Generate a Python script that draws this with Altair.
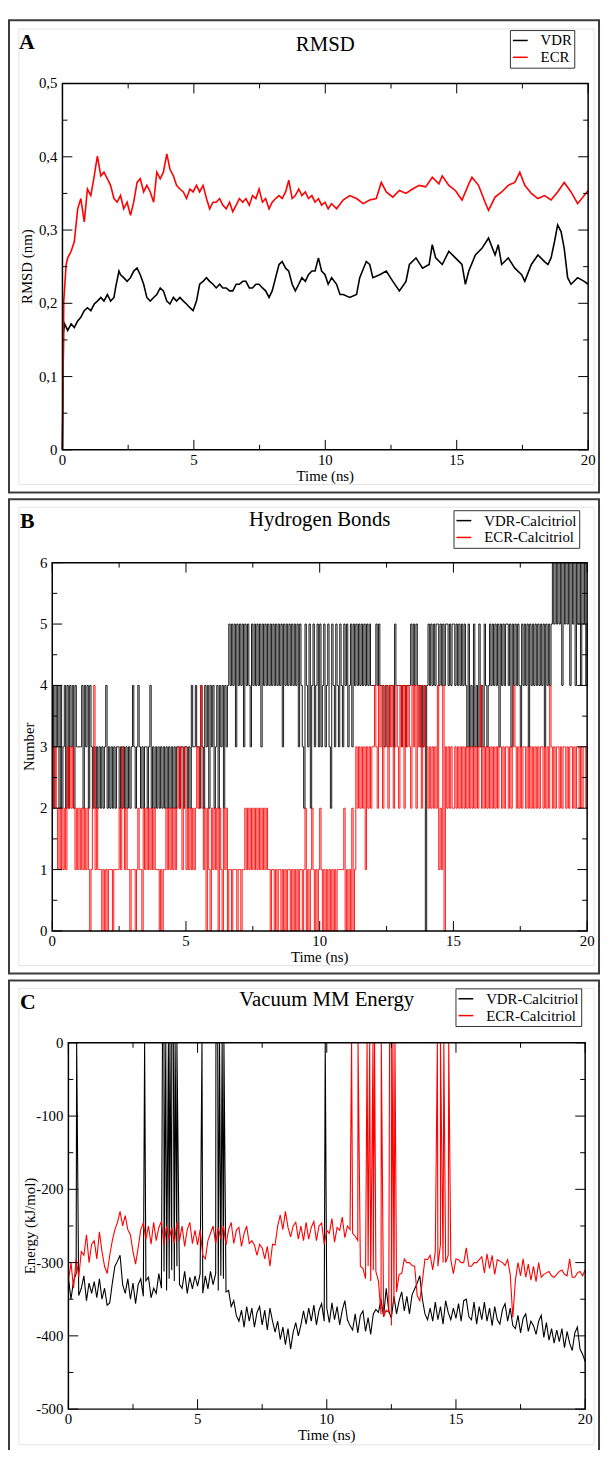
import altair as alt
import pandas as pd

FONT = "Liberation Serif"
BLACK = "#000000"
RED = "#ff0000"

# ---------------- Panel A : RMSD (nm) ----------------
rmsd_vdr_t = [0, 0.04, 0.08, 0.20, 0.33, 0.45, 0.58, 0.70, 0.83, 0.95, 1.08, 1.21, 1.33, 1.46, 1.58, 1.71, 1.83, 1.96,
              2.02, 2.15, 2.21, 2.33, 2.46, 2.59, 2.71, 2.84, 2.96, 3.09, 3.21, 3.34, 3.47, 3.59, 3.72, 3.84, 3.97,
              4.09, 4.22, 4.34, 4.47, 4.60, 4.72, 4.85, 4.97, 5.10, 5.22, 5.35, 5.48, 5.60, 5.73, 5.85, 5.98, 6.10,
              6.23, 6.36, 6.48, 6.61, 6.73, 6.86, 6.98, 7.11, 7.23, 7.36, 7.48, 7.61, 7.73, 7.86, 7.98, 8.11, 8.24,
              8.36, 8.49, 8.61, 8.74, 8.86, 8.99, 9.11, 9.24, 9.36, 9.49, 9.61, 9.74, 9.86, 9.99, 10.11, 10.24,
              10.43, 10.56, 10.68, 10.93, 11.19, 11.31, 11.56, 11.69, 11.81, 12.07, 12.32, 12.57, 12.82, 13.07,
              13.20, 13.45, 13.70, 13.95, 14.07, 14.20, 14.45, 14.70, 14.95, 15.20, 15.33, 15.46, 15.71, 15.96,
              16.21, 16.46, 16.58, 16.71, 16.96, 17.21, 17.47, 17.59, 17.84, 18.09, 18.34, 18.47, 18.59, 18.72,
              18.84, 18.97, 19.09, 19.22, 19.35, 19.60, 19.85, 20.0]
rmsd_vdr_v = [0, 0.160, 0.172, 0.163, 0.172, 0.167, 0.176, 0.181, 0.190, 0.194, 0.190, 0.199, 0.203, 0.208, 0.203,
              0.212, 0.203, 0.208, 0.221, 0.244, 0.239, 0.235, 0.230, 0.235, 0.244, 0.248, 0.239, 0.226, 0.208,
              0.203, 0.208, 0.212, 0.221, 0.217, 0.203, 0.199, 0.208, 0.203, 0.208, 0.203, 0.199, 0.194, 0.190,
              0.203, 0.226, 0.230, 0.235, 0.230, 0.226, 0.221, 0.226, 0.221, 0.221, 0.217, 0.217, 0.226, 0.226,
              0.230, 0.230, 0.221, 0.221, 0.226, 0.226, 0.221, 0.217, 0.208, 0.217, 0.235, 0.253, 0.257, 0.248,
              0.244, 0.226, 0.217, 0.226, 0.235, 0.230, 0.239, 0.244, 0.244, 0.262, 0.244, 0.239, 0.226, 0.235,
              0.226, 0.212, 0.212, 0.208, 0.212, 0.235, 0.257, 0.253, 0.235, 0.239, 0.244, 0.230, 0.217, 0.230,
              0.253, 0.262, 0.248, 0.253, 0.280, 0.262, 0.253, 0.271, 0.262, 0.253, 0.226, 0.244, 0.266, 0.275,
              0.289, 0.266, 0.280, 0.253, 0.262, 0.248, 0.239, 0.230, 0.253, 0.266, 0.257, 0.253, 0.262, 0.284,
              0.307, 0.298, 0.275, 0.235, 0.226, 0.235, 0.230, 0.226]
rmsd_ecr_t = [0, 0.05, 0.14, 0.20, 0.33, 0.45, 0.58, 0.70, 0.83, 0.95, 1.08, 1.21, 1.27, 1.33, 1.46, 1.58, 1.71,
              1.83, 1.96, 2.08, 2.21, 2.33, 2.46, 2.59, 2.71, 2.84, 2.96, 3.09, 3.21, 3.34, 3.47, 3.59, 3.72, 3.84,
              3.97, 4.09, 4.22, 4.34, 4.47, 4.60, 4.72, 4.85, 4.97, 5.10, 5.22, 5.35, 5.48, 5.60, 5.73, 5.85, 5.98,
              6.10, 6.23, 6.36, 6.48, 6.61, 6.73, 6.86, 6.98, 7.11, 7.23, 7.36, 7.48, 7.61, 7.73, 7.86, 7.98, 8.11,
              8.24, 8.36, 8.49, 8.61, 8.74, 8.86, 8.99, 9.11, 9.24, 9.36, 9.49, 9.61, 9.74, 9.86, 9.99, 10.11,
              10.24, 10.43, 10.68, 10.93, 11.19, 11.44, 11.69, 11.94, 12.13, 12.32, 12.57, 12.82, 13.07, 13.32,
              13.57, 13.82, 14.07, 14.32, 14.45, 14.70, 14.95, 15.20, 15.46, 15.58, 15.83, 16.08, 16.21, 16.46,
              16.71, 16.96, 17.21, 17.40, 17.59, 17.84, 18.09, 18.34, 18.59, 18.84, 19.09, 19.35, 19.60, 19.85,
              20.0]
rmsd_ecr_v = [0, 0.203, 0.253, 0.262, 0.271, 0.284, 0.329, 0.343, 0.311, 0.356, 0.347, 0.374, 0.388, 0.401, 0.374,
              0.379, 0.370, 0.361, 0.343, 0.338, 0.347, 0.329, 0.338, 0.320, 0.338, 0.365, 0.370, 0.352, 0.361,
              0.352, 0.338, 0.379, 0.370, 0.379, 0.404, 0.383, 0.374, 0.361, 0.356, 0.352, 0.343, 0.356, 0.352,
              0.361, 0.352, 0.361, 0.343, 0.329, 0.338, 0.338, 0.343, 0.334, 0.329, 0.338, 0.325, 0.334, 0.343,
              0.338, 0.343, 0.334, 0.347, 0.343, 0.356, 0.338, 0.343, 0.329, 0.338, 0.343, 0.347, 0.343, 0.352,
              0.368, 0.343, 0.347, 0.356, 0.347, 0.352, 0.343, 0.347, 0.338, 0.343, 0.334, 0.338, 0.329, 0.336,
              0.329, 0.341, 0.347, 0.343, 0.336, 0.341, 0.343, 0.365, 0.352, 0.345, 0.354, 0.350, 0.356, 0.361,
              0.359, 0.372, 0.363, 0.374, 0.361, 0.354, 0.341, 0.363, 0.372, 0.361, 0.338, 0.327, 0.345, 0.352,
              0.361, 0.365, 0.379, 0.361, 0.350, 0.343, 0.347, 0.341, 0.352, 0.365, 0.352, 0.336, 0.347, 0.354]

# ---------------- Panel B : hydrogen bonds, one digit per 0.05 ns (20 per ns) ----------------
hb_step = 0.05
hb_vdr = ["42434242342424342433", "33424342432323232323", "42323232332323232323", "43234323233234232323",
          "23232323232323323323", "32324334332432434243", "42342434243454545354", "54535454354545453545",
          "45454545454535454545", "45453543254352453453", "53453453254354354354", "53453545454545454544",
          "44545444344344435444", "43443444545454434340", "45454545545454554545", "54545454543534353435",
          "34354345454545354545", "54535454543545453545", "45454545354545656565", "64656564656465646564",
          "5"]
hb_ecr = ["32321212121323232121", "21212121012412111010", "10111011112132121101", "11012110212121212111",
          "01011212121212323123", "12121212323421202102", "12120210212011011101", "10112121212121212121",
          "21101101011010101101", "01010110120101210101", "21010101010101111120", "10102013232323132323",
          "34324342343243423432", "43424343243424342343", "32323232412140323232", "23232323232323232323",
          "42323232323232332323", "32323432323233232323", "23232332323243232332", "32332323323233232332",
          "3"]

# ---------------- Panel C : vacuum MM energy (kJ/mol), one value per 0.1 ns ----------------
en_vdr = [
    [-320, -350, -325, -315, -345, -335, -318, -352, -328, -342],
    [-326, -348, -322, -350, -335, -358, -355, -328, -305, -298],
    [-290, -330, -342, -322, -350, -328, -356, -330, -322, -346],
    [-325, -320, -348, -335, -342, -315, -335, -312, -338, -322],
    [-310, -325, -305, -330, -335, -312, -342, -320, -336, -318],
    [-332, -315, -342, -318, -336, -312, -330, -315, -338, -318],
    [-322, -340, -338, -360, -352, -372, -380, -365, -388, -360],
    [-380, -362, -388, -368, -360, -385, -365, -392, -362, -380],
    [-395, -380, -405, -388, -412, -390, -418, -395, -382, -400],
    [-385, -366, -384, -362, -380, -358, -385, -365, -356, -380],
    [-362, -382, -355, -378, -360, -385, -365, -352, -378, -386],
    [-392, -370, -396, -372, -366, -394, -375, -398, -370, -364],
    [-368, -350, -374, -335, -366, -376, -346, -370, -352, -340],
    [-366, -346, -370, -344, -336, -328, -318, -350, -370, -378],
    [-362, -380, -354, -378, -360, -384, -352, -368, -378, -362],
    [-376, -356, -380, -352, -350, -374, -378, -354, -384, -360],
    [-378, -354, -380, -362, -386, -360, -378, -384, -364, -356],
    [-380, -362, -386, -390, -372, -396, -376, -370, -394, -380],
    [-386, -398, -380, -372, -402, -382, -406, -390, -410, -392],
    [-408, -390, -416, -394, -410, -420, -396, -388, -418, -425],
    [-435],
]
en_ecr = [
    [-325, -300, -335, -295, -320, -285, -290, -262, -300, -275],
    [-270, -295, -258, -285, -305, -315, -290, -270, -255, -245],
    [-230, -250, -236, -255, -262, -285, -302, -280, -255, -246],
    [-268, -250, -275, -245, -270, -252, -244, -276, -250, -268],
    [-252, -274, -245, -270, -250, -278, -255, -245, -274, -256],
    [-276, -255, -290, -295, -270, -260, -250, -274, -252, -268],
    [-250, -276, -255, -245, -274, -256, -252, -278, -260, -250],
    [-274, -270, -276, -290, -275, -280, -295, -278, -305, -275],
    [-276, -250, -235, -255, -230, -252, -265, -250, -245, -268],
    [-250, -270, -245, -268, -252, -244, -270, -250, -246, -275],
    [-256, -260, -240, -272, -252, -256, -238, -266, -250, -255],
    [-260, -264, -270, -305, -308, -322, -305, -325, -310, -312],
    [-325, -370, -374, -365, -368, -386, -356, -340, -316, -315],
    [-295, -300, -300, -304, -305, -345, -352, -325, -295, -296],
    [-290, -310, -285, -305, -275, -300, -300, -290, -296, -315],
    [-295, -296, -300, -300, -280, -305, -305, -300, -300, -296],
    [-292, -314, -288, -308, -290, -316, -296, -298, -300, -304],
    [-296, -316, -375, -324, -300, -318, -295, -320, -302, -324],
    [-305, -326, -300, -320, -316, -314, -312, -318, -320, -316],
    [-312, -310, -316, -318, -295, -320, -320, -314, -312, -318],
    [-310],
]
# frames where the energy shoots up to (and past) 0
en_vdr_spike_t = [0.32, 2.95, 3.64, 3.70, 3.77, 3.87, 3.93, 4.00, 4.06, 4.13, 4.20, 5.17,
                  5.71, 5.78, 5.85, 5.95, 6.02, 9.94]
en_ecr_spike_t = [10.96, 11.21, 11.56, 11.66, 11.79, 11.85, 12.11, 12.43, 12.50, 12.56, 12.64,
                  14.28, 14.40, 14.53, 14.72]
spike_value = 0.0

# ---------------- axis ticks / labels ----------------
x_major = [0, 5, 10, 15, 20]
x_major_lab = ["0", "5", "10", "15", "20"]
x_minor = [2.5, 7.5, 12.5, 17.5]
a_major = [0, 0.1, 0.2, 0.3, 0.4, 0.5]
a_major_lab = ["0", "0,1", "0,2", "0,3", "0,4", "0,5"]
a_minor = [0.05, 0.15, 0.25, 0.35, 0.45]
b_major = [0, 1, 2, 3, 4, 5, 6]
b_major_lab = ["0", "1", "2", "3", "4", "5", "6"]
b_minor = [0.5, 1.5, 2.5, 3.5, 4.5, 5.5]
c_major = [-500, -400, -300, -200, -100, 0]
c_major_lab = ["-500", "-400", "-300", "-200", "-100", "0"]
c_minor = [-450, -350, -250, -150, -50]


def series_df(t, v, name):
    return pd.DataFrame({"t": t, "v": v, "series": name})


def digits_df(chunks, name):
    s = "".join(chunks)
    return series_df([round(i * hb_step, 3) for i in range(len(s))], [int(c) for c in s], name)


def energy_df(chunks, spikes, name):
    vals = [v for c in chunks for v in c]
    t = [round(i * 0.1, 2) for i in range(len(vals))] + list(spikes)
    vals = vals + [spike_value] * len(spikes)
    return series_df(t, vals, name).sort_values("t").reset_index(drop=True)


df_a = pd.concat([series_df(rmsd_vdr_t, rmsd_vdr_v, "VDR"), series_df(rmsd_ecr_t, rmsd_ecr_v, "ECR")])
df_b = pd.concat([digits_df(hb_vdr, "VDR-Calcitriol"), digits_df(hb_ecr, "ECR-Calcitriol")])
df_c = pd.concat([energy_df(en_vdr, en_vdr_spike_t, "VDR-Calcitriol"),
                  energy_df(en_ecr, en_ecr_spike_t, "ECR-Calcitriol")])

ONE = pd.DataFrame({"k": [0]})


def rect(box, color, width):
    return alt.Chart(ONE).mark_rect(fill="white", fillOpacity=0, stroke=color, strokeWidth=width).encode(
        x=alt.value(box[0]), x2=alt.value(box[1]), y=alt.value(box[2]), y2=alt.value(box[3]))


def text(s, x, y, size=15, weight="normal", align="center", baseline="middle", angle=0):
    return alt.Chart(ONE).mark_text(font=FONT, fontSize=size, fontWeight=weight, color="black",
                                    align=align, baseline=baseline, angle=angle).encode(
        x=alt.value(x), y=alt.value(y), text=alt.value(s))


def panel(df, names, plot, ydom, ymaj, ymaj_lab, ymin, ytitle, ytitle_x, title, title_y,
          letter, letter_x, letter_y, frame, inner, leg_x, leg_y, interp="linear", sw=1.0):
    px0, px1, py0, py1 = plot
    xs = alt.Scale(domain=[0, 20], range=[px0, px1], nice=False, zero=False)
    ys = alt.Scale(domain=ydom, range=[py1, py0], nice=False, zero=False)
    L = [rect(frame, "#3c3c3c", 2), rect(inner, "#e4e4e4", 1)]
    legend = alt.Legend(title=None, orient="none", legendX=leg_x, legendY=leg_y, direction="vertical",
                        fillColor="white", strokeColor="#333333", padding=2, symbolType="stroke",
                        symbolSize=225, symbolStrokeWidth=1.5, labelOffset=12, rowPadding=0,
                        labelFont=FONT, labelFontSize=15, labelColor="black")
    for i, name in enumerate(names):
        L.append(alt.Chart(df[df["series"] == name]).mark_line(interpolate=interp, strokeWidth=sw).encode(
            x=alt.X("t:Q", scale=xs, axis=None),
            y=alt.Y("v:Q", scale=ys, axis=None),
            color=alt.Color("series:N", scale=alt.Scale(domain=names, range=[BLACK, RED]),
                            legend=legend if i == 0 else None)))
    L.append(rect((px0, px1, py0, py1), "black", 1.5))
    # inward ticks on all four sides
    for vals, ln in ((x_major, 10), (x_minor, 5)):
        d = pd.DataFrame({"t": vals})
        L.append(alt.Chart(d).mark_rule(color="black", strokeWidth=1).encode(
            x=alt.X("t:Q", scale=xs, axis=None), y=alt.value(py1), y2=alt.value(py1 - ln)))
        L.append(alt.Chart(d).mark_rule(color="black", strokeWidth=1).encode(
            x=alt.X("t:Q", scale=xs, axis=None), y=alt.value(py0), y2=alt.value(py0 + ln)))
    for vals, ln in ((ymaj, 10), (ymin, 5)):
        d = pd.DataFrame({"v": vals})
        L.append(alt.Chart(d).mark_rule(color="black", strokeWidth=1).encode(
            y=alt.Y("v:Q", scale=ys, axis=None), x=alt.value(px0), x2=alt.value(px0 + ln)))
        L.append(alt.Chart(d).mark_rule(color="black", strokeWidth=1).encode(
            y=alt.Y("v:Q", scale=ys, axis=None), x=alt.value(px1), x2=alt.value(px1 - ln)))
    # tick labels
    L.append(alt.Chart(pd.DataFrame({"t": x_major, "lab": x_major_lab})).mark_text(
        font=FONT, fontSize=15, color="black", align="center", baseline="alphabetic").encode(
        x=alt.X("t:Q", scale=xs, axis=None), y=alt.value(py1 + 15), text="lab:N"))
    L.append(alt.Chart(pd.DataFrame({"v": ymaj, "lab": ymaj_lab})).mark_text(
        font=FONT, fontSize=15, color="black", align="right", baseline="middle").encode(
        y=alt.Y("v:Q", scale=ys, axis=None), x=alt.value(px0 - 5), text="lab:N"))
    # axis titles, panel title, panel letter
    L.append(text("Time (ns)", (px0 + px1) / 2, py1 + 31.5, baseline="alphabetic"))
    L.append(text(ytitle, ytitle_x, (py0 + py1) / 2, angle=270))
    L.append(text(title, (px0 + px1) / 2, title_y, size=21))
    L.append(text(letter, letter_x, letter_y, size=22, weight="bold", align="left"))
    return L


layers_a = panel(df_a, ["VDR", "ECR"], (55, 586, 69, 439), [0, 0.5], a_major, a_major_lab, a_minor,
                 "RMSD (nm)", 19, "RMSD", 30, "A", 11, 27.5,
                 (1, 597, 5, 482), (11, 592, 14, 474), 507, 15, sw=1.6)
layers_b = panel(df_b, ["VDR-Calcitriol", "ECR-Calcitriol"], (44.7, 585, 553, 925), [0, 6],
                 b_major, b_major_lab, b_minor, "Number", 21, "Hydrogen Bonds", 510, "B", 12, 511,
                 (1, 597, 489, 968), (11, 592, 497, 960), 450, 500, interp="step-after", sw=0.9)
layers_c = panel(df_c, ["VDR-Calcitriol", "ECR-Calcitriol"], (61, 583, 1038, 1408), [-500, 0],
                 c_major, c_major_lab, c_minor, "Energy (kJ/mol)", 22, "Vacuum MM Energy", 995, "C", 12, 997,
                 (1, 597, 975, 1470), (11, 592, 983, 1444), 452, 983, sw=1.1)

chart = alt.layer(*layers_a, *layers_b, *layers_c).resolve_scale(
    x="independent", y="independent", color="independent").properties(
    width=599, height=1442, autosize=alt.AutoSizeParams(type="none"), padding=0,
    background="white").configure_view(stroke=None)

chart.save("out.html", embed_options={"renderer": "svg", "actions": False})
